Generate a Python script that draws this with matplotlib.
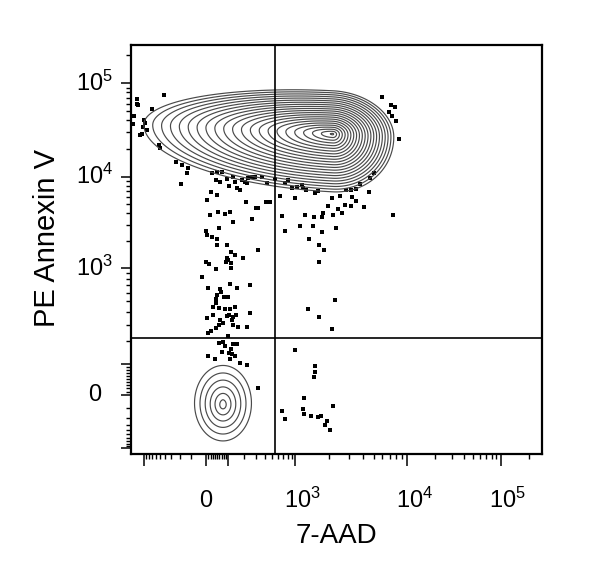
import numpy as np
import matplotlib
matplotlib.use("Agg")
import matplotlib.pyplot as plt
from matplotlib.ticker import FixedLocator, FixedFormatter
from matplotlib.transforms import ScaledTranslation

plt.rcParams['font.family'] = ['Liberation Sans', 'DejaVu Sans']
plt.rcParams['mathtext.fontset'] = 'custom'
plt.rcParams['mathtext.rm'] = 'Liberation Sans'
plt.rcParams['mathtext.it'] = 'Liberation Sans:italic'
plt.rcParams['mathtext.bf'] = 'Liberation Sans:bold'

# ---- axis (biexponential-like display, 0-1000 display units) ----
BIEX_C = 150.0
ANCHOR_VAL = np.array([-1e4, -1e3, 0, 1e3, 1e4, 1e5, 1e6])
X_ANCHOR_POS = np.array([-101.3, 31.6, 182.5, 400.2, 672.3, 899.5, 1126.7])
Y_ANCHOR_POS = np.array([-101.0, 13.9, 144.3, 454.0, 678.0, 906.4, 1134.8])
ANCHOR_U = np.arcsinh(ANCHOR_VAL / BIEX_C)

TICK_VALUES = [-1e3, 0, 1e2, 1e3, 1e4, 1e5]
TICK_LABELS = ['', '0', '', r'$10^3$', r'$10^4$', r'$10^5$']
MINOR_VALUES = ([k * 10 for k in range(1, 10)] + [-k * 100 for k in range(1, 10)]
                + [k * 100 for k in range(2, 10)] + [k * 1000 for k in range(2, 10)]
                + [k * 10000 for k in range(2, 10)] + [2e5])

GATE_X = 550
GATE_Y = 220

# ---- events outside the contours (7-AAD, PE Annexin V) ----
dots_x = [-1335, -1280, -1530, -1000, -963, -1062, -896, -1108, -723, -418,
          -521, -506, -243, -181, -122, -135, -191, 25, 47, 71,
          44, 96, 63, 110, 132, 142, 152, 185, 210, 222,
          234, 263, 290, 364, 424, 416, 470, 303, 327, 263,
          217, 174, 113, 20, 47, 3, 17, 55, 87, 59,
          132, 5900, 7100, 7760, 6900, 7250, 7900, 8500, 5000, 4640,
          4540, 3775, 3470, 3170, 2860, 2500, 2110, 3240, 3520, 3170,
          2770, 2420, 1970, 4100, 2590, 2170, 1770, 1715, 1465, 1216,
          667, 635, 990, 738, 813, 899, 1040, 1140, 1180, 1240,
          1494, 1600, 7480, 2330, 1097, 1450, 548, 0, 3, 25,
          50, 50, 99, 117, 142, 96, 104, 92, 117, 197,
          324, 0, 14, 44, 117, -27, 10, 63, 66, 50,
          82, 104, 113, 156, 250, 44, 44, 32, 59, 87,
          113, 142, 110, 128, 148, 96, 3, 32, 250, 63,
          79, 59, 123, 132, 163, 222, 44, 20, 10, 104,
          79, 87, 59, 132, 156, 117, 110, 123, 142, 71,
          10, 40, 113, 174, 222, 324, 740, 1730, 1330, 1630,
          1800, 1630, 2270, 1290, 1630, 2110, 990, 1510, 1510, 1470,
          1190, 2170, 674, 1170, 744, 1190, 1380, 1580, 1690, 1930,
          1850, 2040, -1620, -1191, -1370]
dots_y = [68000, 58500, 44700, 40400, 37900, 34300, 31600, 28600, 52700, 75000,
          21800, 20300, 14500, 13300, 12300, 10900, 8300, 10900, 11100, 11100,
          9200, 9400, 8800, 7900, 10000, 8800, 7500, 9200, 8800, 8500,
          9600, 10000, 10000, 10000, 8500, 5340, 5340, 4540, 4540, 3450,
          5340, 7150, 4140, 6860, 6310, 5560, 3820, 4140, 3970, 2780,
          3230, 71000, 58500, 56200, 49800, 44200, 39000, 25100, 11000, 9700,
          6800, 8250, 7400, 7250, 7250, 6150, 5800, 5950, 5400, 4790,
          4910, 4500, 4790, 4700, 3990, 3820, 4070, 3600, 3600, 3820,
          3720, 6100, 5800, 8500, 9200, 7500, 7800, 8100, 7500, 7250,
          6650, 7000, 3820, 2740, 2880, 2880, 9400, 2570, 2310, 2190,
          2080, 1800, 1800, 1510, 1400, 1290, 1220, 1160, 1150, 1290,
          1580, 1160, 1110, 984, 1000, 834, 662, 648, 615, 575,
          554, 554, 724, 662, 710, 524, 481, 445, 432, 423,
          423, 447, 372, 354, 372, 364, 346, 372, 392, 334,
          314, 297, 329, 297, 285, 281, 275, 261, 245, 230,
          199, 178, 194, 188, 188, 162, 147, 142, 131, 152,
          135, 120, 120, 105, 98, 21, 2570, 2470, 2090, 1800,
          1580, 1180, 516, 423, 354, 273, 159, 96, 72, 56,
          -22, -84, -126, -113, -219, -160, -179, -198, -179, -242,
          -312, -400, 36600, 27900, 59500]

# ---- populations: peak (data), exponential falloff per side (display units), weight ----
pop_x = [2165, 77, 77]
pop_y = [28650, -76, -37]
pop_sx_left = [60.5, 26.8, 58.4]
pop_sx_right = [19.5, 26.8, 58.4]
pop_sy_down = [18.6, 35.5, 77.5]
pop_sy_up = [13.9, 35.5, 77.5]
pop_tilt = [0.05, 0.0, 0.0]
pop_w = [1.0, 0.003, 0.0009]


def make_fwd(pos):
    def fwd(v):
        return np.interp(np.arcsinh(np.asarray(v, dtype=float) / BIEX_C), ANCHOR_U, pos)
    return fwd


def make_inv(pos):
    def inv(p):
        return BIEX_C * np.sinh(np.interp(np.asarray(p, dtype=float), pos, ANCHOR_U))
    return inv


fx, ix = make_fwd(X_ANCHOR_POS), make_inv(X_ANCHOR_POS)
fy, iy = make_fwd(Y_ANCHOR_POS), make_inv(Y_ANCHOR_POS)

fig = plt.figure(figsize=(6, 5.72), dpi=100)
ax = fig.add_axes([0.2183, 0.2063, 0.685, 0.715])
ax.set_xscale('function', functions=(fx, ix))
ax.set_yscale('function', functions=(fy, iy))
ax.set_xlim(ix(0), ix(1000))
ax.set_ylim(iy(0), iy(1000))

# density on a grid that is even in display space
gx = np.linspace(0, 1000, 600)
gy = np.linspace(0, 1000, 600)
GX, GY = np.meshgrid(gx, gy)
Z = np.zeros_like(GX)
for i in range(len(pop_w)):
    dx = GX - fx(pop_x[i])
    dy = GY - (fy(pop_y[i]) - pop_tilt[i] * dx)
    sx = np.where(dx < 0, pop_sx_left[i], pop_sx_right[i])
    sy = np.where(dy < 0, pop_sy_down[i], pop_sy_up[i])
    Z += pop_w[i] * np.exp(-np.sqrt((dx / sx) ** 2 + (dy / sy) ** 2))
levels = np.geomspace(5e-4, 0.9, 22)
ax.contour(ix(gx), iy(gy), Z, levels=levels, colors='#4a4a4a', linewidths=0.85)

ax.scatter(dots_x, dots_y, s=5.5, marker='s', c='black', linewidths=0)

ax.axvline(GATE_X, color='black', lw=1.2)
ax.axhline(GATE_Y, color='black', lw=1.2)

for axis in (ax.xaxis, ax.yaxis):
    axis.set_major_locator(FixedLocator(TICK_VALUES))
    axis.set_major_formatter(FixedFormatter(TICK_LABELS))
    axis.set_minor_locator(FixedLocator(MINOR_VALUES))

ax.tick_params(which='major', direction='out', width=1.1, labelsize=17)
ax.tick_params(which='minor', direction='out', width=1.0, length=3.8)
ax.tick_params(axis='x', which='major', length=8.5, pad=30)
ax.tick_params(axis='y', which='major', length=7.2, pad=19)
for spine in ax.spines.values():
    spine.set_linewidth(1.6)

shift = ScaledTranslation(0.07, 0, fig.dpi_scale_trans)
for lab in ax.get_xticklabels():
    lab.set_va('baseline')
    if lab.get_text().startswith('$'):
        lab.set_transform(lab.get_transform() + shift)
for lab in ax.get_yticklabels():
    lab.set_ha('center')
    lab.set_va('center')

ax.set_xlabel('7-AAD', fontsize=20, va='center')
ax.set_ylabel('PE Annexin V', fontsize=21, va='center')
ax.xaxis.set_label_coords(0.5, -0.2)
ax.yaxis.set_label_coords(-0.205, 0.527)

fig.savefig('out.png', dpi=100)
